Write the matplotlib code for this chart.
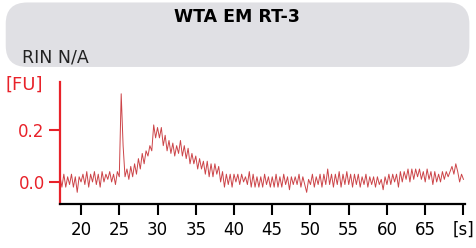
import numpy as np
from matplotlib import pyplot as plt
from matplotlib.patches import FancyBboxPatch

# electropherogram trace, values in [FU], sampled every 0.25 s from 17.25 s
t_start = 17.25
t_step = 0.25

baseline_early = [0.02, -0.02, 0.03, -0.02, 0.02, -0.01, 0.03, -0.02, 0.02, -0.04,
                  0.02, 0.00, 0.03, -0.01, 0.04, -0.02, 0.03, 0.00, 0.04, -0.01,
                  0.03, -0.02, 0.04, 0.00, 0.03, 0.01, 0.04, 0.00, 0.03, -0.01,
                  0.04, 0.02]
spike_and_rise = [0.34, 0.14, 0.02, 0.05, 0.01, 0.06, 0.02, 0.07, 0.03, 0.09,
                  0.05, 0.11, 0.07, 0.12, 0.10, 0.14, 0.12, 0.22, 0.17, 0.21]
decline = [0.17, 0.21, 0.14, 0.18, 0.12, 0.16, 0.11, 0.15, 0.10, 0.14,
           0.11, 0.16, 0.10, 0.14, 0.09, 0.13, 0.07, 0.11, 0.07, 0.10,
           0.05, 0.09, 0.05, 0.08, 0.03, 0.08, 0.02, 0.07, 0.02, 0.07,
           0.03, 0.06, 0.00, 0.04, -0.02, 0.03, -0.01, 0.03, -0.02, 0.03]
baseline_mid = [0.00, 0.03, -0.01, 0.03, 0.00, 0.02, -0.01, 0.04, -0.02, 0.03,
                -0.02, 0.02, -0.02, 0.02, -0.02, 0.03, -0.01, 0.02, -0.02, 0.02,
                -0.02, 0.03, -0.02, 0.02, -0.02, 0.03, -0.01, 0.02, -0.03, 0.02,
                -0.01, 0.02, -0.01, 0.03, -0.02, 0.02, -0.01, -0.04, 0.01, -0.01,
                0.03, -0.02, 0.02, -0.01, 0.03, -0.02, 0.03, -0.01, 0.05, -0.01,
                0.03, -0.02, 0.03, -0.01, 0.04, -0.02, 0.03, -0.01, 0.04, -0.01]
baseline_late = [0.03, -0.02, 0.03, -0.01, 0.03, -0.02, 0.02, -0.01, 0.03, -0.02,
                 0.02, -0.01, 0.02, -0.02, 0.02, -0.01, 0.01, -0.03, 0.02, -0.01,
                 0.03, -0.01, 0.03, 0.00, 0.03, -0.02, 0.04, 0.00, 0.04, 0.01,
                 0.05, 0.00, 0.05, 0.01, 0.05, 0.02, 0.05, 0.01, 0.04, 0.00,
                 0.05, 0.01, 0.04, -0.01, 0.04, 0.00, 0.03, 0.00, 0.04, 0.01,
                 0.04, 0.02, 0.04, 0.06, 0.03, 0.07, 0.04, 0.00, 0.03, 0.01]

x_ticks = [20, 25, 30, 35, 40, 45, 50, 55, 60, 65, 70]
x_ticklabels = ["20", "25", "30", "35", "40", "45", "50", "55", "60", "65", "[s]"]
y_ticks = [0.0, 0.2]
y_ticklabels = ["0.0", "0.2"]

title = "WTA EM RT-3"
subtitle = "RIN N/A"
y_unit = "[FU]"

AXIS_RED = "#e8222a"
LINE_RED = "#cc4448"

fu = np.array(baseline_early + spike_and_rise + decline + baseline_mid + baseline_late)
t = t_start + t_step * np.arange(len(fu))

fig = plt.figure(figsize=(4.77, 2.48), dpi=100)

# header box
box = FancyBboxPatch((0.012, 0.73), 0.972, 0.26,
                     boxstyle="round,pad=0,rounding_size=0.045",
                     transform=fig.transFigure, facecolor="#e0e0e4",
                     edgecolor="none", mutation_aspect=1.9)
fig.patches.append(box)
fig.text(0.497, 0.93, title, ha="center", va="center",
         fontsize=12.5, fontweight="bold", color="black")
fig.text(0.046, 0.77, subtitle, ha="left", va="center",
         fontsize=12.5, color="#222222")
fig.text(0.05, 0.657, y_unit, ha="center", va="center",
         fontsize=13, color=AXIS_RED)

ax = fig.add_axes([0.1258, 0.1774, 0.849, 0.4915])
ax.plot(t, fu, color=LINE_RED, lw=0.7)

ax.set_xlim(17.25, 70.2)
ax.set_ylim(-0.085, 0.385)
ax.set_xticks(x_ticks)
ax.set_xticklabels(x_ticklabels)
ax.set_yticks(y_ticks)
ax.set_yticklabels(y_ticklabels)

for side in ("top", "right"):
    ax.spines[side].set_visible(False)
ax.spines["left"].set_color(AXIS_RED)
ax.spines["left"].set_linewidth(1.6)
ax.spines["bottom"].set_color("black")
ax.spines["bottom"].set_linewidth(1.6)

ax.tick_params(axis="x", direction="out", length=8, width=1.5,
               labelsize=12, colors="black", pad=4)
ax.tick_params(axis="y", direction="out", length=8, width=1.5,
               labelsize=12, colors=AXIS_RED, pad=3)

fig.savefig("out.png", dpi=100)
